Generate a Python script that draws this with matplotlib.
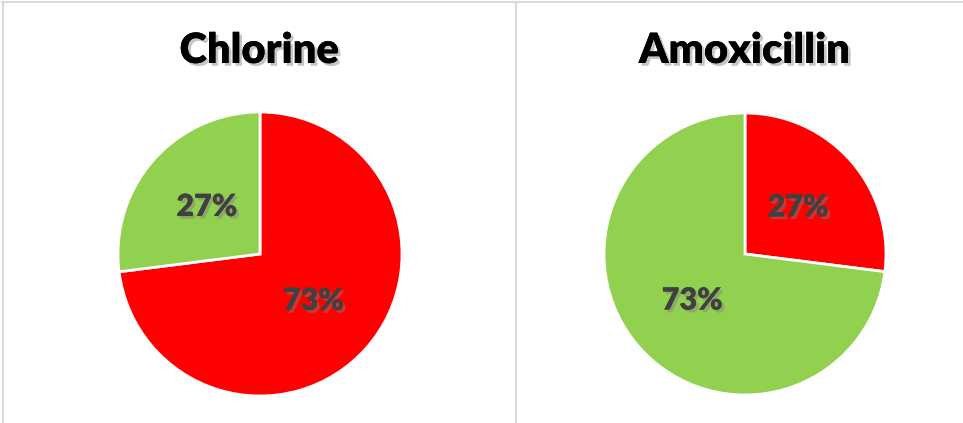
import matplotlib.pyplot as plt
import matplotlib.patheffects as pe
from matplotlib.lines import Line2D

titles = ["Chlorine", "Amoxicillin"]
# share of each pie, first slice starts at 12 o'clock, clockwise
chlorine = [73, 27]
amoxicillin = [27, 73]
chlorine_colors = ["#FF0000", "#92D050"]
amoxicillin_colors = ["#FF0000", "#92D050"]

plt.rcParams["font.family"] = ["Lato", "DejaVu Sans"]

fig = plt.figure(figsize=(9.63, 4.23), dpi=100)
W, H = 963, 423

shadow = [pe.withSimplePatchShadow(offset=(2, -2), shadow_rgbFace="#808080", alpha=0.45), pe.Normal()]


def draw_pie(cx, cy, r, values, colors, title, tx):
    ax = fig.add_axes([(cx - r) / W, 1 - (cy + r) / H, 2 * r / W, 2 * r / H])
    wedges, texts, autotexts = ax.pie(
        values, colors=colors, startangle=90, counterclock=False,
        autopct="%d%%", pctdistance=0.5,
        wedgeprops=dict(edgecolor="white", linewidth=2),
        textprops=dict(fontsize=22, fontweight="heavy", color="#404040"),
    )
    for t in autotexts:
        t.set_path_effects(shadow)
    ax.set_aspect("equal")
    ax.set_xlim(-1.0, 1.0)
    ax.set_ylim(-1.0, 1.0)
    ax.axis("off")
    fig.text(tx / W, 1 - 51 / H, title, ha="center", va="center",
             fontsize=30, fontweight="heavy", color="black", path_effects=shadow)


draw_pie(260, 254, 142, chlorine, chlorine_colors, titles[0], 259)
draw_pie(745, 254, 141, amoxicillin, amoxicillin_colors, titles[1], 744)

# chart borders
border = "#D9D9D9"
fig.add_artist(Line2D([2 / W, 1], [1 - 2.5 / H] * 2, color=border, lw=1.5, transform=fig.transFigure))
fig.add_artist(Line2D([2.5 / W] * 2, [0, 1 - 2 / H], color=border, lw=1.5, transform=fig.transFigure))
fig.add_artist(Line2D([516 / W] * 2, [0, 1 - 2 / H], color=border, lw=1.5, transform=fig.transFigure))

fig.savefig("out.png", dpi=100, facecolor="white")
